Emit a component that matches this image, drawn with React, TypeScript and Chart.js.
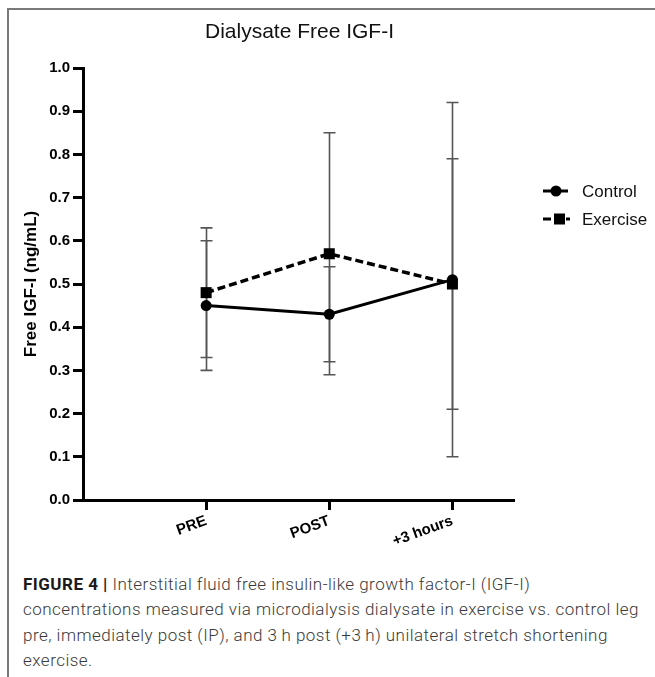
import React, { useEffect, useLayoutEffect, useRef } from "react";
import { Chart, registerables } from "chart.js";

Chart.register(...registerables);

// ---- data ----
const categories = ["PRE", "POST", "+3 hours"];
const categoryPositions = [1, 2, 3];
const controlMean = [0.45, 0.43, 0.51];
const controlErr = [0.15, 0.11, 0.41];
const exerciseMean = [0.48, 0.57, 0.5];
const exerciseErr = [0.15, 0.28, 0.29];
const seriesNames = ["Control", "Exercise"];
const chartTitle = "Dialysate Free IGF-I";
const yAxisTitle = "Free IGF-I (ng/mL)";
const yMin = 0;
const yMax = 1;
const yStep = 0.1;
const captionLead = "FIGURE 4 |";
const captionLines = [
  " Interstitial fluid free insulin-like growth factor-I (IGF-I)",
  "concentrations measured via microdialysis dialysate in exercise vs. control leg",
  "pre, immediately post (IP), and 3\u2009h post (+3\u2009h) unilateral stretch shortening",
  "exercise.",
];

const FONT = "Arial, 'Liberation Sans', Helvetica, sans-serif";

const errorBarPlugin = {
  id: "errorBars",
  beforeDatasetsDraw(chart: any) {
    const { ctx, scales } = chart;
    const x = scales.x;
    const y = scales.y;
    ctx.save();
    ctx.strokeStyle = "#555";
    ctx.lineWidth = 1.6;
    chart.data.datasets.forEach((ds: any) => {
      const errs: number[] = ds.errors || [];
      ds.data.forEach((pt: any, i: number) => {
        const px = Math.round(x.getPixelForValue(pt.x)) + 0.5;
        const top = y.getPixelForValue(pt.y + errs[i]);
        const bot = y.getPixelForValue(pt.y - errs[i]);
        ctx.beginPath();
        ctx.moveTo(px, top);
        ctx.lineTo(px, bot);
        ctx.moveTo(px - 6, top);
        ctx.lineTo(px + 6, top);
        ctx.moveTo(px - 6, bot);
        ctx.lineTo(px + 6, bot);
        ctx.stroke();
      });
    });
    ctx.restore();
  },
};

const decorPlugin = {
  id: "decor",
  afterDraw(chart: any) {
    const { ctx, chartArea } = chart;
    ctx.save();
    // title
    ctx.fillStyle = "#111";
    ctx.font = `21px ${FONT}`;
    ctx.textAlign = "center";
    ctx.textBaseline = "middle";
    ctx.fillText(chartTitle, (chartArea.left + chartArea.right) / 2 + 1, 32);

    // legend
    const lx = chartArea.right + 29;
    const rows = [191, 219];
    ctx.textAlign = "left";
    ctx.font = `17px ${FONT}`;
    ctx.fillStyle = "#111";
    // Control
    ctx.strokeStyle = "#000";
    ctx.lineWidth = 3;
    ctx.beginPath();
    ctx.moveTo(lx, rows[0]);
    ctx.lineTo(lx + 25, rows[0]);
    ctx.stroke();
    ctx.fillStyle = "#000";
    ctx.beginPath();
    ctx.arc(lx + 13, rows[0], 5.5, 0, Math.PI * 2);
    ctx.fill();
    ctx.fillStyle = "#111";
    ctx.fillText(seriesNames[0], lx + 39, rows[0] + 1);
    // Exercise
    ctx.fillStyle = "#000";
    ctx.beginPath();
    ctx.moveTo(lx, rows[1]);
    ctx.lineTo(lx + 8, rows[1]);
    ctx.moveTo(lx + 23, rows[1]);
    ctx.lineTo(lx + 27, rows[1]);
    ctx.stroke();
    ctx.fillRect(lx + 11, rows[1] - 5.5, 11, 11);
    ctx.fillStyle = "#111";
    ctx.fillText(seriesNames[1], lx + 39, rows[1] + 1);
    ctx.restore();
  },
};

function ChartCanvas() {
  const ref = useRef<HTMLCanvasElement | null>(null);
  useEffect(() => {
    if (!ref.current) return;
    const tickFont = { family: FONT, size: 15, weight: "bold" as const };
    const chart = new Chart(ref.current, {
      type: "line",
      data: {
        datasets: [
          {
            label: seriesNames[0],
            data: categoryPositions.map((p, i) => ({ x: p, y: controlMean[i] })),
            errors: controlErr,
            borderColor: "#000",
            backgroundColor: "#000",
            borderWidth: 3,
            pointStyle: "circle",
            pointRadius: 5.5,
            pointBorderWidth: 0,
            pointBackgroundColor: "#000",
            fill: false,
            tension: 0,
          } as any,
          {
            label: seriesNames[1],
            data: categoryPositions.map((p, i) => ({ x: p, y: exerciseMean[i] })),
            errors: exerciseErr,
            borderColor: "#000",
            backgroundColor: "#000",
            borderWidth: 3.5,
            borderDash: [8, 4],
            pointStyle: "rect",
            pointRadius: 7.8,
            pointBorderWidth: 0,
            pointBackgroundColor: "#000",
            fill: false,
            tension: 0,
          } as any,
        ],
      },
      options: {
        responsive: false,
        animation: false,
        layout: { padding: { left: 0, top: 68, right: 141, bottom: 0 } },
        plugins: {
          legend: { display: false },
          title: { display: false },
          tooltip: { enabled: false },
        },
        scales: {
          x: {
            type: "linear",
            min: 0,
            max: 3.5,
            afterBuildTicks: (axis: any) => {
              axis.ticks = categoryPositions.map((v) => ({ value: v }));
            },
            afterFit: (axis: any) => {
              axis.height = 65;
            },
            ticks: {
              autoSkip: false,
              minRotation: 20,
              maxRotation: 20,
              padding: 2,
              color: "#000",
              font: tickFont,
              callback: (v: any) => {
                const i = categoryPositions.indexOf(Number(v));
                return i >= 0 ? categories[i] : "";
              },
            },
            grid: {
              display: true,
              drawOnChartArea: false,
              drawTicks: true,
              tickLength: 10,
              tickWidth: 3,
              tickColor: "#000",
            },
            border: { display: true, color: "#000", width: 3 },
          },
          y: {
            min: yMin,
            max: yMax,
            afterFit: (axis: any) => {
              axis.width = 83;
            },
            ticks: {
              stepSize: yStep,
              padding: 3,
              color: "#000",
              font: tickFont,
              callback: (v: any) => Number(v).toFixed(1),
            },
            grid: {
              display: true,
              drawOnChartArea: false,
              drawTicks: true,
              tickLength: 10,
              tickWidth: 3,
              tickColor: "#000",
            },
            border: { display: true, color: "#000", width: 3 },
            title: {
              display: true,
              text: yAxisTitle,
              color: "#000",
              font: { family: FONT, size: 17, weight: "bold" },
              padding: { top: 21, bottom: 0 },
            },
          },
        },
      } as any,
      plugins: [errorBarPlugin, decorPlugin],
    });
    return () => chart.destroy();
  }, []);
  return (
    <canvas
      ref={ref}
      width={655}
      height={565}
      style={{ position: "absolute", left: 0, top: 0, width: 655, height: 565 }}
    />
  );
}

function Caption() {
  const boxRef = useRef<HTMLDivElement | null>(null);
  const measureRef = useRef<HTMLSpanElement | null>(null);
  useLayoutEffect(() => {
    const span = measureRef.current;
    const box = boxRef.current;
    if (!span || !box) return;
    const w = span.getBoundingClientRect().width;
    const n = captionLines[1].length;
    const target = 616;
    const ls = (target - w) / n;
    box.style.letterSpacing = `${ls}px`;
  }, []);
  const lineStyle: React.CSSProperties = {
    height: 25.4,
    lineHeight: "25.4px",
    whiteSpace: "nowrap",
  };
  return (
    <div
      ref={boxRef}
      style={{
        position: "absolute",
        left: 23,
        top: 572,
        fontFamily: "Roboto, 'Liberation Sans', Arial, sans-serif",
        fontWeight: 300,
        fontSize: 17,
        color: "#3a3a3a",
      }}
    >
      <div style={lineStyle}>
        <span style={{ fontWeight: 700, color: "#1a1a1a" }}>{captionLead}</span>
        {captionLines[0]}
      </div>
      <div style={lineStyle}>
        <span ref={measureRef}>{captionLines[1]}</span>
      </div>
      <div style={lineStyle}>{captionLines[2]}</div>
      <div style={lineStyle}>{captionLines[3]}</div>
    </div>
  );
}

export default function App() {
  return (
    <div
      style={{
        position: "fixed",
        left: 0,
        top: 0,
        width: 655,
        height: 677,
        overflow: "hidden",
        background: "#fff",
      }}
    >
      <ChartCanvas />
      <div style={{ position: "absolute", left: 7, top: 8, width: 648, height: 2, background: "#7a7a7a" }} />
      <div style={{ position: "absolute", left: 7, top: 8, width: 2, height: 669, background: "#7a7a7a" }} />
      <Caption />
    </div>
  );
}
